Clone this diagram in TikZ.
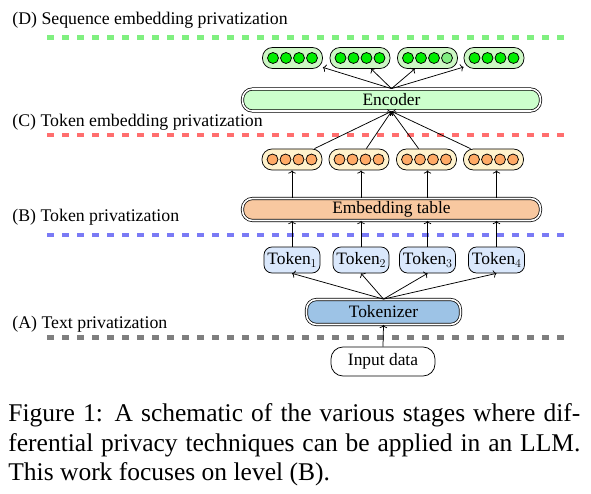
\documentclass[tikz,border=0pt]{standalone}
\usepackage{fontspec}
\setmainfont{Liberation Serif}
\usetikzlibrary{arrows.meta}
\newcommand{\tksub}[1]{\raisebox{-0.22em}{\fontsize{13}{14}\selectfont$#1$}}
\definecolor{lvlD}{HTML}{80F080}
\definecolor{lvlC}{HTML}{FF6E6E}
\definecolor{lvlB}{HTML}{7A7AF5}
\definecolor{lvlA}{HTML}{7F7F7F}
\definecolor{encfill}{HTML}{CCFFCC}
\definecolor{seqfill}{HTML}{CCF7C4}
\definecolor{seqdot}{HTML}{00EE00}
\definecolor{seqdotlight}{HTML}{80EE80}
\definecolor{embfill}{HTML}{FFF2CC}
\definecolor{embdot}{HTML}{FFAA66}
\definecolor{tablefill}{HTML}{F8C8A0}
\definecolor{tokfill}{HTML}{DAE8FC}
\definecolor{tokzfill}{HTML}{9DC3E6}
\begin{document}
\begin{tikzpicture}[x=1pt,y=-1pt,line width=0.75pt,
  lbl/.style={anchor=west,inner sep=0pt,font=\fontsize{17.8}{20}\selectfont},
  level/.style={line width=4.5pt,dash pattern=on 7pt off 8pt},
  txt/.style={font=\fontsize{17.4}{20}\selectfont},
  bigbox/.style={txt,draw,double=white,double distance=1.6pt,rounded corners=10pt,inner sep=0pt},
  vecbox/.style={draw,rounded corners=10pt,minimum width=60pt,minimum height=21pt,inner sep=0pt},
  tokbox/.style={txt,draw,fill=tokfill,rounded corners=8pt,minimum width=56pt,minimum height=26pt,inner sep=0pt},
  arr/.style={-{To[length=3.2pt,width=7.5pt]}}
]
\useasboundingbox (0,0) rectangle (591,494);

% level lines
\coordinate (dL) at (47,37.5);  \coordinate (dR) at (566,37.5);
\coordinate (cL) at (47,135);   \coordinate (cR) at (566,135);
\coordinate (bL) at (47,235);   \coordinate (bR) at (566,235);
\coordinate (aL) at (47,337.5); \coordinate (aR) at (566,337.5);
\draw[level,lvlD] (dL) -- (dR);
\draw[level,lvlC] (cL) -- (cR);
\draw[level,lvlB] (bL) -- (bR);
\draw[level,lvlA] (aL) -- (aR);

% main blocks
\node[bigbox,fill=encfill,minimum width=298pt,minimum height=22pt] (enc) at (391.5,100) {Encoder};
\node[bigbox,fill=tablefill,minimum width=298pt,minimum height=22pt] (emb) at (391.5,209.5) {Embedding table};
\node[bigbox,fill=tokzfill,minimum width=154pt,minimum height=25pt] (tkz) at (383.5,312) {Tokenizer};
\node[txt,draw,fill=white,rounded corners=12pt,minimum width=104pt,minimum height=29pt,inner sep=0pt] (inp) at (383,361.5) {Input data};

% token boxes
\node[tokbox] (t1) at (292,260) {Token\tksub{1}};
\node[tokbox] (t2) at (361,260) {Token\tksub{2}};
\node[tokbox] (t3) at (427.5,260) {Token\tksub{3}};
\node[tokbox] (t4) at (496.5,260) {Token\tksub{4}};

% token embedding boxes
\node[vecbox,fill=embfill] (o1) at (292,159.5) {};
\node[vecbox,fill=embfill] (o2) at (359,159.5) {};
\node[vecbox,fill=embfill] (o3) at (426.5,159.5) {};
\node[vecbox,fill=embfill] (o4) at (493.5,159.5) {};

% sequence embedding boxes
\node[vecbox,fill=seqfill] (g1) at (292.5,58) {};
\node[vecbox,fill=seqfill] (g2) at (360,58) {};
\node[vecbox,fill=seqfill] (g3) at (427.5,58) {};
\node[vecbox,fill=seqfill] (g4) at (494,58) {};

% dots
\foreach \b in {o1,o2,o3,o4}{
  \foreach \dx in {-19.5,-6.5,6.5,19.5}{
    \draw[fill=embdot] ([xshift=\dx pt]\b.center) circle (5.5pt);
  }
}
\foreach \b in {g1,g2,g4}{
  \foreach \dx in {-19.5,-6.5,6.5,19.5}{
    \draw[fill=seqdot] ([xshift=\dx pt]\b.center) circle (5.5pt);
  }
}
\foreach \dx in {-19.5,-6.5,6.5}{
  \draw[fill=seqdot] ([xshift=\dx pt]g3.center) circle (5.5pt);
}
\draw[fill=seqdotlight] ([xshift=19.5pt]g3.center) circle (5.5pt);

% connectors
\draw[arr] (inp.north) -- (tkz.south);
\foreach \t in {t1,t2,t3,t4}{
  \draw[arr] (tkz.north) -- (\t.south);
  \draw[arr] (\t.north) -- (\t.north |- emb.south);
}
\draw[arr] (t1.north |- emb.north) -- (t1.north |- o1.south);
\draw[arr] (t2.north |- emb.north) -- (t2.north |- o2.south);
\draw[arr] (t3.north |- emb.north) -- (t3.north |- o3.south);
\draw[arr] (t4.north |- emb.north) -- (t4.north |- o4.south);
\foreach \o in {o1,o2,o3,o4}{
  \draw[arr] (\o) -- (enc.south);
}
\foreach \g in {g1,g2,g3,g4}{
  \draw[arr] (enc.north) -- (\g);
}

% level labels
\node[lbl] (labD) at (12,20) {(D) Sequence embedding privatization};
\node[lbl] (labC) at (12,122) {(C) Token embedding privatization};
\node[lbl] (labB) at (12,217) {(B) Token privatization};
\node[lbl] (labA) at (12,324) {(A) Text privatization};

% caption
\begin{scope}[every node/.style={anchor=base west,inner sep=0pt,font=\fontsize{25.5}{29.5}\selectfont}]
\node (cap1) at (8,421.5) {\makebox[572pt][s]{Figure 1: A schematic of the various stages where dif-}};
\node (cap2) at (8,451) {\makebox[572pt][s]{ferential privacy techniques can be applied in an LLM.}};
\node (cap3) at (8,480.5) {This work focuses on level (B).};
\end{scope}
\end{tikzpicture}
\end{document}
